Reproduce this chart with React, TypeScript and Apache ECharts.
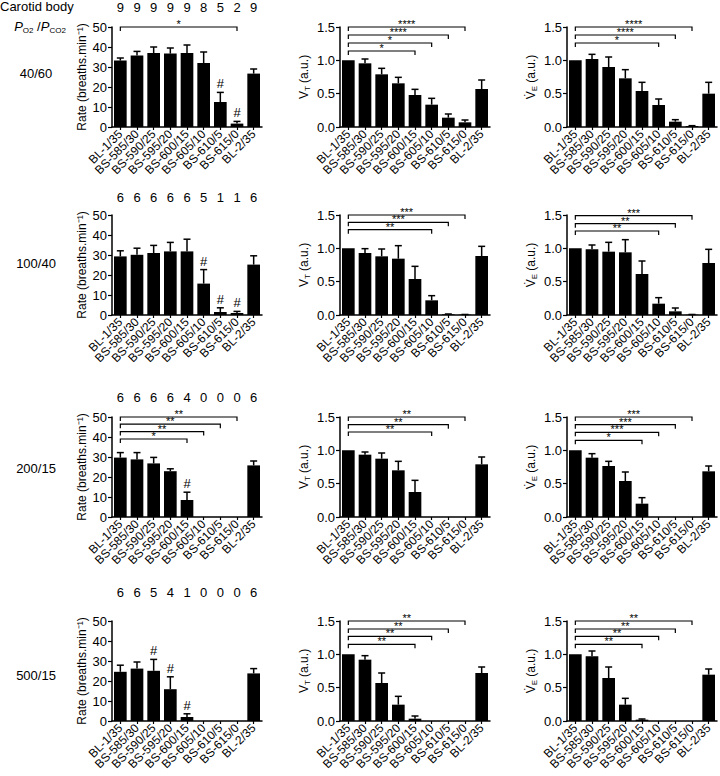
import React, { useEffect, useRef } from "react";
import * as echarts from "echarts";

// ---------- data ----------
const categories = [
  "BL-1/35", "BS-585/30", "BS-590/25", "BS-595/20", "BS-600/15",
  "BS-605/10", "BS-610/5", "BS-615/0", "BL-2/35",
];
const rowConditions = ["40/60", "100/40", "200/15", "500/15"];

const counts40_60 = ["9", "9", "9", "9", "9", "8", "5", "2", "9"];
const counts100_40 = ["6", "6", "6", "6", "6", "5", "1", "1", "6"];
const counts200_15 = ["6", "6", "6", "6", "4", "0", "0", "0", "6"];
const counts500_15 = ["6", "6", "5", "4", "1", "0", "0", "0", "6"];

// Row 1: 40/60
const rate40_60 = [33.2, 35.8, 37.0, 36.7, 37.0, 32.0, 12.5, 1.7, 26.7];
const rate40_60Err = [1.3, 2.0, 3.0, 2.8, 4.0, 5.5, 4.8, 1.1, 2.3];
const rate40_60Hash = [6, 7];
const rate40_60Sig: [number, number, string][] = [[7, 50, "*"]];

const vt40_60 = [1.0, 0.955, 0.79, 0.655, 0.48, 0.335, 0.14, 0.07, 0.57];
const vt40_60Err = [0, 0.065, 0.09, 0.09, 0.085, 0.095, 0.055, 0.035, 0.135];
const vt40_60Sig: [number, number, string][] = [[4, 1.14, "*"], [5, 1.26, "*"], [6, 1.38, "****"], [7, 1.5, "****"]];

const ve40_60 = [1.0, 1.02, 0.9, 0.73, 0.54, 0.33, 0.08, 0.015, 0.5];
const ve40_60Err = [0, 0.07, 0.15, 0.13, 0.13, 0.09, 0.03, 0.005, 0.17];
const ve40_60Sig: [number, number, string][] = [[5, 1.26, "*"], [6, 1.38, "****"], [7, 1.5, "****"]];

// Row 2: 100/40
const rate100_40 = [29.3, 30.1, 31.0, 31.8, 31.8, 15.7, 1.5, 1.0, 25.2];
const rate100_40Err = [2.8, 3.3, 3.8, 4.5, 6.1, 7.0, 2.1, 0.8, 4.4];
const rate100_40Hash = [5, 6, 7];
const rate100_40Sig: [number, number, string][] = [];

const vt100_40 = [1.0, 0.93, 0.88, 0.845, 0.54, 0.22, 0.01, 0.005, 0.885];
const vt100_40Err = [0, 0.065, 0.11, 0.195, 0.19, 0.07, 0.005, 0.003, 0.145];
const vt100_40Sig: [number, number, string][] = [[5, 1.28, "**"], [6, 1.39, "***"], [7, 1.5, "***"]];

const ve100_40 = [1.0, 0.985, 0.95, 0.94, 0.615, 0.17, 0.055, 0.005, 0.78];
const ve100_40Err = [0, 0.065, 0.14, 0.19, 0.195, 0.09, 0.05, 0.003, 0.205];
const ve100_40Sig: [number, number, string][] = [[5, 1.26, "**"], [6, 1.37, "**"], [7, 1.49, "***"]];

// Row 3: 200/15
const rate200_15 = [29.7, 28.8, 26.8, 22.9, 8.5, 0, 0, 0, 25.8];
const rate200_15Err = [2.5, 3.4, 3.0, 1.2, 3.9, 0, 0, 0, 2.2];
const rate200_15Hash = [4];
const rate200_15Sig: [number, number, string][] = [[4, 39, "*"], [5, 42.7, "**"], [6, 46.4, "**"], [7, 50, "**"]];

const vt200_15 = [1.0, 0.935, 0.875, 0.7, 0.375, 0, 0, 0, 0.79];
const vt200_15Err = [0, 0.04, 0.085, 0.135, 0.175, 0, 0, 0, 0.11];
const vt200_15Sig: [number, number, string][] = [[5, 1.275, "**"], [6, 1.385, "**"], [7, 1.5, "**"]];

const ve200_15 = [1.0, 0.89, 0.765, 0.54, 0.2, 0, 0, 0, 0.685];
const ve200_15Err = [0, 0.06, 0.07, 0.135, 0.09, 0, 0, 0, 0.08];
const ve200_15Sig: [number, number, string][] = [[4, 1.15, "*"], [5, 1.27, "***"], [6, 1.385, "***"], [7, 1.5, "***"]];

// Row 4: 500/15
const rate500_15 = [24.6, 26.2, 25.1, 15.9, 2.0, 0, 0, 0, 23.8];
const rate500_15Err = [3.3, 3.3, 5.7, 6.2, 1.6, 0, 0, 0, 2.4];
const rate500_15Hash = [2, 3, 4];
const rate500_15Sig: [number, number, string][] = [];

const vt500_15 = [1.0, 0.92, 0.57, 0.245, 0.035, 0, 0, 0, 0.72];
const vt500_15Err = [0, 0.06, 0.15, 0.125, 0.04, 0, 0, 0, 0.09];
const vt500_15Sig: [number, number, string][] = [[4, 1.15, "**"], [5, 1.27, "**"], [6, 1.38, "**"], [7, 1.5, "**"]];

const ve500_15 = [1.0, 0.97, 0.645, 0.245, 0.02, 0, 0, 0, 0.695];
const ve500_15Err = [0, 0.08, 0.165, 0.095, 0.01, 0, 0, 0, 0.085];
const ve500_15Sig: [number, number, string][] = [[4, 1.15, "**"], [5, 1.27, "**"], [6, 1.38, "**"], [7, 1.5, "**"]];

const rateTicks = { min: 0, max: 50, interval: 10 };
const normTicks = { min: 0, max: 1.5, interval: 0.5 };

// ---------- layout ----------
const FONT = "'Liberation Sans', Arial, Helvetica, sans-serif";
const colLefts = [112, 340, 567];
const rowTops = [27, 215, 417, 621];
const rowLabelY = [73, 263, 468, 675];
const countMargins = [13, 11, 13, 22];
const PW = 150;
const PH = 100;

type Panel = {
  row: number;
  col: number;
  values: number[];
  errors: number[];
  hash: number[];
  sig: [number, number, string][];
  counts?: string[];
};

const panels: Panel[] = [
  { row: 0, col: 0, values: rate40_60, errors: rate40_60Err, hash: rate40_60Hash, sig: rate40_60Sig, counts: counts40_60 },
  { row: 0, col: 1, values: vt40_60, errors: vt40_60Err, hash: [], sig: vt40_60Sig },
  { row: 0, col: 2, values: ve40_60, errors: ve40_60Err, hash: [], sig: ve40_60Sig },
  { row: 1, col: 0, values: rate100_40, errors: rate100_40Err, hash: rate100_40Hash, sig: rate100_40Sig, counts: counts100_40 },
  { row: 1, col: 1, values: vt100_40, errors: vt100_40Err, hash: [], sig: vt100_40Sig },
  { row: 1, col: 2, values: ve100_40, errors: ve100_40Err, hash: [], sig: ve100_40Sig },
  { row: 2, col: 0, values: rate200_15, errors: rate200_15Err, hash: rate200_15Hash, sig: rate200_15Sig, counts: counts200_15 },
  { row: 2, col: 1, values: vt200_15, errors: vt200_15Err, hash: [], sig: vt200_15Sig },
  { row: 2, col: 2, values: ve200_15, errors: ve200_15Err, hash: [], sig: ve200_15Sig },
  { row: 3, col: 0, values: rate500_15, errors: rate500_15Err, hash: rate500_15Hash, sig: rate500_15Sig, counts: counts500_15 },
  { row: 3, col: 1, values: vt500_15, errors: vt500_15Err, hash: [], sig: vt500_15Sig },
  { row: 3, col: 2, values: ve500_15, errors: ve500_15Err, hash: [], sig: ve500_15Sig },
];

const axisNames = [
  "Rate (breaths.min⁻¹)",
  "{n|V}{s|T}{n| (a.u.)}",
  "{n|V̇}{s|E}{n| (a.u.)}",
];
const nameGaps = [24, 29, 29];

function buildOption() {
  const grids: any[] = [];
  const xAxes: any[] = [];
  const yAxes: any[] = [];
  const series: any[] = [];

  panels.forEach((p, k) => {
    const left = colLefts[p.col];
    const top = rowTops[p.row];
    grids.push({ left, top, width: PW, height: PH, containLabel: false });

    const bottomIdx = xAxes.length;
    xAxes.push({
      type: "category",
      gridIndex: k,
      data: categories,
      boundaryGap: true,
      axisLine: { lineStyle: { color: "#000", width: 1.5 } },
      axisTick: { show: true, alignWithLabel: true, length: 3, lineStyle: { color: "#000", width: 1.2 } },
      axisLabel: { rotate: 45, margin: 5, fontSize: 12, color: "#000", fontFamily: FONT, interval: 0 },
    });
    if (p.counts) {
      xAxes.push({
        type: "category",
        gridIndex: k,
        position: "top",
        data: p.counts,
        boundaryGap: true,
        axisLine: { show: false },
        axisTick: { show: false },
        axisLabel: { margin: countMargins[p.row], fontSize: 13, color: "#000", fontFamily: FONT, interval: 0 },
      });
    }
    const isRate = p.col === 0;
    const ticks = isRate ? rateTicks : normTicks;
    yAxes.push({
      type: "value",
      gridIndex: k,
      min: ticks.min,
      max: ticks.max,
      interval: ticks.interval,
      splitLine: { show: false },
      axisLine: { show: true, lineStyle: { color: "#000", width: 1.5 } },
      axisTick: { show: true, length: 4, lineStyle: { color: "#000", width: 1.2 } },
      axisLabel: {
        fontSize: 13,
        color: "#000",
        fontFamily: FONT,
        margin: 5,
        formatter: (v: number) => (isRate ? String(v) : v.toFixed(1)),
      },
      name: axisNames[p.col],
      nameLocation: "middle",
      nameGap: nameGaps[p.col],
      nameTextStyle: {
        fontSize: 12,
        color: "#000",
        fontFamily: FONT,
        rich: {
          n: { fontSize: 12, color: "#000", fontFamily: FONT, lineHeight: 15 },
          s: { fontSize: 8, color: "#000", fontFamily: FONT, lineHeight: 9, verticalAlign: "bottom" },
        },
      },
    });

    series.push({
      type: "bar",
      xAxisIndex: bottomIdx,
      yAxisIndex: k,
      data: p.values,
      barWidth: "76%",
      itemStyle: { color: "#000" },
      silent: true,
    });

    series.push({
      type: "custom",
      xAxisIndex: bottomIdx,
      yAxisIndex: k,
      clip: false,
      silent: true,
      data: p.values.map((v, i) => [i, v, p.errors[i], p.hash.indexOf(i) >= 0 ? 1 : 0]),
      encode: { x: 0, y: 1 },
      renderItem: (params: any, api: any) => {
        const idx = api.value(0);
        const v = api.value(1);
        const e = api.value(2);
        const h = api.value(3);
        const base = api.coord([idx, v]);
        const topPt = api.coord([idx, v + e]);
        const children: any[] = [];
        if (e > 0) {
          children.push({
            type: "line",
            shape: { x1: base[0], y1: base[1], x2: topPt[0], y2: topPt[1] },
            style: { stroke: "#000", lineWidth: 1.5 },
          });
          children.push({
            type: "line",
            shape: { x1: topPt[0] - 3.5, y1: topPt[1], x2: topPt[0] + 3.5, y2: topPt[1] },
            style: { stroke: "#000", lineWidth: 1.5 },
          });
        }
        if (h) {
          children.push({
            type: "text",
            x: topPt[0],
            y: topPt[1] - 2,
            style: { text: "#", align: "center", verticalAlign: "bottom", fontSize: 13, fill: "#000", fontFamily: FONT },
          });
        }
        return { type: "group", children };
      },
    });

    if (p.sig.length) {
      series.push({
        type: "custom",
        xAxisIndex: bottomIdx,
        yAxisIndex: k,
        clip: false,
        silent: true,
        data: p.sig.map((s) => [0, s[0], s[1], s[2]]),
        encode: { x: 1, y: 2 },
        renderItem: (params: any, api: any) => {
          const from = api.value(0);
          const to = api.value(1);
          const level = api.value(2);
          const label = p.sig[params.dataIndex][2];
          const a = api.coord([from, level]);
          const b = api.coord([to, level]);
          const drop = 4;
          return {
            type: "group",
            children: [
              {
                type: "polyline",
                shape: { points: [[a[0], a[1] + drop], [a[0], a[1]], [b[0], a[1]], [b[0], a[1] + drop]] },
                style: { stroke: "#000", lineWidth: 1.2, fill: null },
              },
              {
                type: "text",
                x: (a[0] + b[0]) / 2,
                y: a[1] - 3,
                style: {
                  text: label,
                  align: "center",
                  verticalAlign: "middle",
                  fontSize: 11,
                  lineHeight: 7,
                  fill: "#000",
                  fontFamily: FONT,
                },
              },
            ],
          };
        },
      });
    }
  });

  const graphic: any[] = [
    {
      type: "text",
      left: 0,
      top: 0,
      style: { text: "Carotid body", fontSize: 13, fill: "#000", fontFamily: FONT },
    },
    {
      type: "text",
      x: 40,
      y: 26,
      style: {
        text: "{i|P}{s|O2}{n| /}{i|P}{s|CO2}",
        align: "center",
        verticalAlign: "middle",
        fill: "#000",
        rich: {
          i: { fontSize: 13, fontStyle: "italic", fontFamily: FONT, fill: "#000", lineHeight: 16 },
          n: { fontSize: 13, fontFamily: FONT, fill: "#000", lineHeight: 16 },
          s: { fontSize: 8, fontFamily: FONT, fill: "#000", lineHeight: 9, verticalAlign: "bottom" },
        },
      },
    },
  ];
  rowConditions.forEach((c, r) => {
    graphic.push({
      type: "text",
      x: 36,
      y: rowLabelY[r],
      style: { text: c, align: "center", verticalAlign: "middle", fontSize: 13, fill: "#000", fontFamily: FONT },
    });
  });

  return {
    animation: false,
    backgroundColor: "#fff",
    textStyle: { fontFamily: FONT, color: "#000" },
    grid: grids,
    xAxis: xAxes,
    yAxis: yAxes,
    series,
    graphic,
  };
}

export default function App() {
  const ref = useRef<HTMLDivElement>(null);
  useEffect(() => {
    if (!ref.current) return;
    const chart = echarts.init(ref.current, undefined, { renderer: "svg" });
    chart.setOption(buildOption());
    return () => chart.dispose();
  }, []);
  return (
    <div
      ref={ref}
      style={{ position: "absolute", left: 0, top: 0, width: 720, height: 776, background: "#fff" }}
    />
  );
}
